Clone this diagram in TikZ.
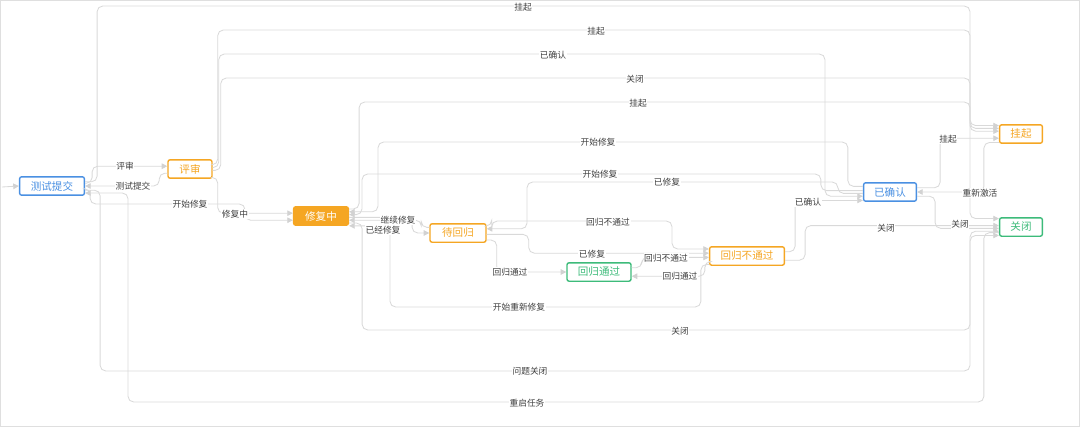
\documentclass[tikz,border=0pt]{standalone}
\usepackage{fontspec}
\setmainfont{Noto Sans CJK SC}
\usetikzlibrary{arrows.meta,calc}
\definecolor{blu}{HTML}{4A90E2}
\definecolor{org}{HTML}{F5A623}
\definecolor{grn}{HTML}{3DBB7A}
\tikzset{
	x=0.025cm, y=-0.025cm,
	state/.style = {
			draw, rectangle, rounded corners=1.5pt, line width=1pt, fill=white,
			minimum height=0.46cm, inner sep=2pt, align=center,
			font=\fontsize{7.5}{8}\selectfont
		},
	link/.style = {draw=gray!30, line width=0.6pt, rounded corners=4pt,
			-{Triangle[length=4pt,width=4pt,fill=gray!35,color=gray!35]}},
	lbl/.style = {fill=white, inner sep=0.5pt, text=black!75,
			font=\fontsize{6.2}{7}\selectfont}
}
\begin{document}
\begin{tikzpicture}
				\useasboundingbox (0,0) rectangle (1080,427);
				\draw[gray!25, line width=1pt] (0,0) rectangle (1080,427);

				% States
				\node[state, draw=blu, text=blu, minimum width=1.62cm] (submit) at (52,186) {测试提交};
				\node[state, draw=org, text=org, minimum width=1.1cm] (review) at (190,169) {评审};
				\node[state, draw=org, fill=org, text=white, minimum width=1.37cm] (fixing) at (321,216) {修复中};
				\node[state, draw=org, text=org, minimum width=1.4cm] (waiting) at (458,233) {待回归};
				\node[state, draw=grn, text=grn, minimum width=1.6cm] (passed) at (599,272) {回归通过};
				\node[state, draw=org, text=org, minimum width=1.87cm] (failed) at (747,256) {回归不通过};
				\node[state, draw=blu, text=blu, minimum width=1.32cm] (confirmed) at (890,192) {已确认};
				\node[state, draw=org, text=org, minimum width=1.07cm] (suspend) at (1021,134) {挂起};
				\node[state, draw=grn, text=grn, minimum width=1.07cm] (closed) at (1021,227) {关闭};

				% Entry
				\coordinate (start) at (2,187);
				\draw[link] (start) -- (submit.west);

				% --- From submit ---
				\draw[link] ([yshift=2]submit.east) -- ++(7,0) |- ([yshift=2]review.west);
				\draw[link] ([yshift=3]submit.east) -- ++(12,0) |- (970,6) |- ([yshift=6]suspend.west);
				\draw[link] ([yshift=-2]submit.east) -- ++(5,0) |- (245,204) |- ([yshift=-3]fixing.west);
				\draw[link] ([yshift=-3]submit.east) -- ++(15,0) |- (970,371) |- ([yshift=-6]closed.west);

				% --- From review ---
				\draw[link] ([yshift=-3]review.west) -- ++(-8,0) |- (submit.east);
				\draw[link] ([yshift=3]review.east) -- ++(5,0) |- (970,30) |- ([yshift=4]suspend.west);
				\draw[link] ([yshift=1]review.east) -- ++(6,0) |- (825,54) |- ([yshift=-3]confirmed.west);
				\draw[link] ([yshift=-1]review.east) -- ++(8,0) |- (970,78) |- ([yshift=6]closed.west);
				\draw[link] ([yshift=-6]review.east) -- ++(5,0) |- ([yshift=2]fixing.west);

				% --- From fixing ---
				\draw[link] ([yshift=5]fixing.east) -- ++(10,0) |- (970,102) |- ([yshift=2]suspend.west);
				\draw[link] ([yshift=-1]fixing.east) -- ++(63,0) |- (waiting.west);
				\draw[link] ([yshift=-5]fixing.east) -- ++(13,0) |- (970,330) |- ([yshift=-3]closed.west);

				% --- From confirmed ---
				\draw[link] ([yshift=4]confirmed.west) -- ++(-15,0) |- (378,142) |- ([yshift=3]fixing.east);
				\draw[link] ([yshift=1]confirmed.west) -- ++(-42,0) |- (362,174) |- ([yshift=1]fixing.east);
				\draw[link] ([yshift=-1]confirmed.west) -- ++(-25,0) |- (527,182) |- ([yshift=3]waiting.east);
				\draw[link] ([yshift=3]confirmed.east) -- ++(23,0) |- ([yshift=-3]suspend.west);
				\draw[link] ([yshift=-3]confirmed.east) -- ++(18,0) |- ([yshift=-1]closed.west);

				% --- From waiting ---
				\draw[link] ([yshift=4]waiting.west) -- ++(-8,0) |- ([yshift=-3]fixing.east);
				\draw[link] ([yshift=-5]waiting.east) -- ++(10,0) |- (passed.west);
				\draw[link] ([yshift=5]waiting.east) -- ++(5,0) |- (672,221) |- ([yshift=5]failed.west);
				\draw[link] ([yshift=-1]waiting.east) -- ++(42,0) |- ([yshift=2]failed.west);

				% --- From passed / failed ---
				\draw[link] ([yshift=3]passed.east) -- ++(10,0) |- ([yshift=-1]failed.west);
				\draw[link] ([yshift=-4]failed.west) -- ++(-4,0) |- ([yshift=-3]passed.east);
				\draw[link] ([yshift=-6]failed.west) -- ++(-8,0) |- (390,307) |- ([yshift=-7]fixing.east);
				\draw[link] ([yshift=3]failed.east) -- ++(10,0) |- ([yshift=-6]confirmed.west);
				\draw[link] ([yshift=-3]failed.east) -- ++(20,0) |- ([yshift=1]closed.west);

				% --- From suspend / closed ---
				\draw[link] ([yshift=-6]suspend.west) -- ++(-15,0) |- (confirmed.east);
				\draw[link] ([yshift=-4]closed.west) -- ++(-15,0) |- (128,402) |- ([yshift=-5]submit.east);

				% Labels
				\node[lbl] (l1) at (125,166) {评审};
				\node[lbl] (l2) at (133,186) {测试提交};
				\node[lbl] (l3) at (523,7) {挂起};
				\node[lbl] (l4) at (596,31) {挂起};
				\node[lbl] (l5) at (553,55) {已确认};
				\node[lbl] (l6) at (635,79) {关闭};
				\node[lbl] (l7) at (235,214) {修复中};
				\node[lbl] (l8) at (190,204) {开始修复};
				\node[lbl] (l9) at (638,103) {挂起};
				\node[lbl] (l10) at (598,142) {开始修复};
				\node[lbl] (l11) at (600,174) {开始修复};
				\node[lbl] (l12) at (667,182) {已修复};
				\node[lbl] (l13) at (808,202) {已确认};
				\node[lbl] (l14) at (886,228) {关闭};
				\node[lbl] (l15) at (960,224) {关闭};
				\node[lbl] (l16) at (948,139) {挂起};
				\node[lbl] (l17) at (980,193) {重新激活};
				\node[lbl] (l18) at (530,371) {问题关闭};
				\node[lbl] (l19) at (527,403) {重启任务};
				\node[lbl] (l20) at (680,331) {关闭};
				\node[lbl] (l21) at (398,220) {继续修复};
				\node[lbl] (l22) at (383,230) {已经修复};
				\node[lbl] (l23) at (510,272) {回归通过};
				\node[lbl] (l24) at (519,307) {开始重新修复};
				\node[lbl] (l25) at (608,222) {回归不通过};
				\node[lbl] (l26) at (592,254) {已修复};
				\node[lbl] (l27) at (666,258) {回归不通过};
				\node[lbl] (l28) at (680,276) {回归通过};
			\end{tikzpicture}
\end{document}
